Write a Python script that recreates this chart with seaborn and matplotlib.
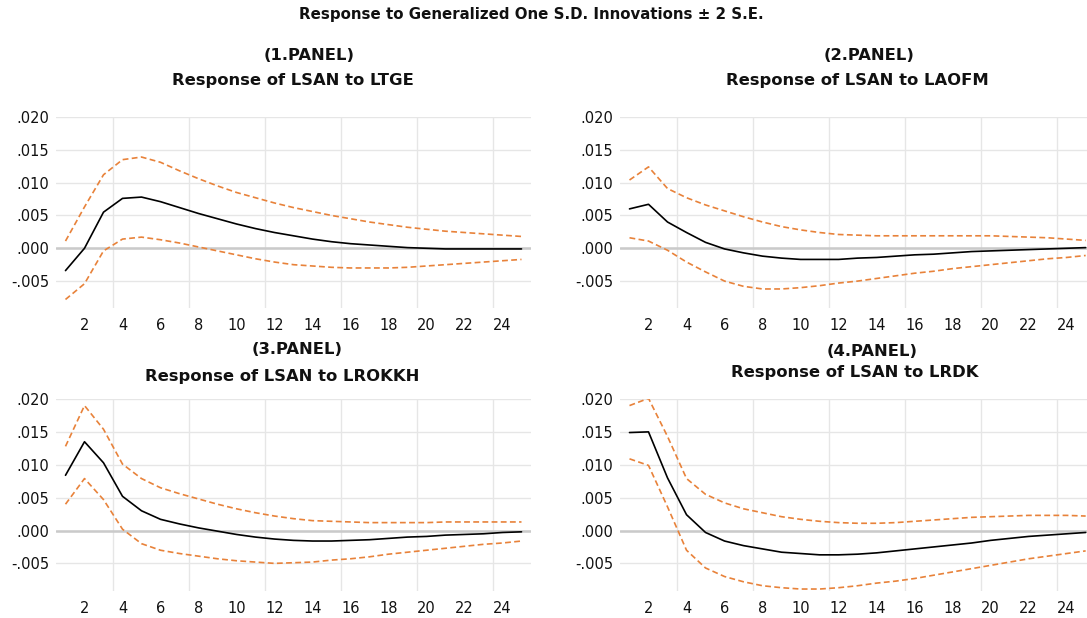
import numpy as np
import pandas as pd
import matplotlib
matplotlib.use("Agg")
import matplotlib.pyplot as plt
import seaborn as sns
from matplotlib.ticker import FuncFormatter

periods = list(range(1, 26))

p1_resp = [-0.0034, 0.0000, 0.0055, 0.0076, 0.0078, 0.0071, 0.0062, 0.0053, 0.0045, 0.0037, 0.0030, 0.0024, 0.0019,
           0.0014, 0.0010, 0.0007, 0.0005, 0.0003, 0.0001, 0.0000, -0.0001, -0.0001, -0.0001, -0.0001, -0.0001]
p1_upper = [0.0011, 0.0063, 0.0112, 0.0135, 0.0139, 0.0131, 0.0118, 0.0106, 0.0095, 0.0085, 0.0077, 0.0069, 0.0062,
            0.0056, 0.0050, 0.0045, 0.0040, 0.0036, 0.0032, 0.0029, 0.0026, 0.0024, 0.0022, 0.0020, 0.0018]
p1_lower = [-0.0078, -0.0054, -0.0004, 0.0014, 0.0017, 0.0013, 0.0008, 0.0002, -0.0004, -0.0010, -0.0016, -0.0021,
            -0.0025, -0.0027, -0.0029, -0.0030, -0.0030, -0.0030, -0.0029, -0.0027, -0.0025, -0.0023, -0.0021,
            -0.0019, -0.0017]

p2_resp = [0.0060, 0.0067, 0.0040, 0.0024, 0.0009, -0.0001, -0.0007, -0.0012, -0.0015, -0.0017, -0.0017, -0.0017,
           -0.0015, -0.0014, -0.0012, -0.0010, -0.0009, -0.0007, -0.0005, -0.0004, -0.0003, -0.0002, -0.0001,
           0.0000, 0.0001]
p2_upper = [0.0104, 0.0124, 0.0091, 0.0077, 0.0066, 0.0057, 0.0048, 0.0040, 0.0033, 0.0028, 0.0024, 0.0021, 0.0020,
            0.0019, 0.0019, 0.0019, 0.0019, 0.0019, 0.0019, 0.0019, 0.0018, 0.0017, 0.0016, 0.0014, 0.0012]
p2_lower = [0.0016, 0.0011, -0.0003, -0.0021, -0.0036, -0.0050, -0.0058, -0.0062, -0.0062, -0.0060, -0.0057, -0.0053,
            -0.0050, -0.0046, -0.0042, -0.0038, -0.0035, -0.0031, -0.0028, -0.0025, -0.0022, -0.0019, -0.0016,
            -0.0014, -0.0011]

p3_resp = [0.0084, 0.0135, 0.0103, 0.0052, 0.0030, 0.0017, 0.0010, 0.0004, -0.0001, -0.0006, -0.0010, -0.0013,
           -0.0015, -0.0016, -0.0016, -0.0015, -0.0014, -0.0012, -0.0010, -0.0009, -0.0007, -0.0006, -0.0005,
           -0.0003, -0.0002]
p3_upper = [0.0128, 0.0190, 0.0154, 0.0101, 0.0079, 0.0065, 0.0056, 0.0048, 0.0040, 0.0033, 0.0027, 0.0022, 0.0018,
            0.0015, 0.0014, 0.0013, 0.0012, 0.0012, 0.0012, 0.0012, 0.0013, 0.0013, 0.0013, 0.0013, 0.0013]
p3_lower = [0.0040, 0.0079, 0.0047, 0.0002, -0.0020, -0.0030, -0.0035, -0.0039, -0.0043, -0.0046, -0.0048, -0.0050,
            -0.0049, -0.0048, -0.0045, -0.0043, -0.0040, -0.0036, -0.0033, -0.0030, -0.0027, -0.0024, -0.0021,
            -0.0019, -0.0016]

p4_resp = [0.0149, 0.0150, 0.0080, 0.0024, -0.0003, -0.0016, -0.0023, -0.0028, -0.0033, -0.0035, -0.0037, -0.0037,
           -0.0036, -0.0034, -0.0031, -0.0028, -0.0025, -0.0022, -0.0019, -0.0015, -0.0012, -0.0009, -0.0007,
           -0.0005, -0.0003]
p4_upper = [0.0190, 0.0201, 0.0143, 0.0079, 0.0055, 0.0042, 0.0033, 0.0027, 0.0021, 0.0017, 0.0014, 0.0012, 0.0011,
            0.0011, 0.0012, 0.0014, 0.0016, 0.0018, 0.0020, 0.0021, 0.0022, 0.0023, 0.0023, 0.0023, 0.0022]
p4_lower = [0.0109, 0.0099, 0.0036, -0.0030, -0.0057, -0.0070, -0.0078, -0.0084, -0.0087, -0.0089, -0.0089, -0.0087,
            -0.0084, -0.0080, -0.0077, -0.0073, -0.0068, -0.0063, -0.0058, -0.0053, -0.0048, -0.0043, -0.0039,
            -0.0035, -0.0031]

panel_labels = ["(1.PANEL)", "(2.PANEL)", "(3.PANEL)", "(4.PANEL)"]
panel_titles = ["Response of LSAN to LTGE", "Response of LSAN to LAOFM",
                "Response of LSAN to LROKKH", "Response of LSAN to LRDK"]
main_title = "Response to Generalized One S.D. Innovations \u00b1 2 S.E."
y_ticks = [-0.005, 0.000, 0.005, 0.010, 0.015, 0.020]
x_ticks = list(range(2, 25, 2))

sns.set_theme(style="white")
plt.rcParams["font.family"] = ["DejaVu Sans"]

W, H = 1087, 618
fig = plt.figure(figsize=(W / 100, H / 100), dpi=100)

RESP_COLOR = "#000000"
BAND_COLOR = "#E8823A"
GRID_COLOR = "#E6E6E6"
ZERO_COLOR = "#CACACA"
TITLE_FONT = "DejaVu Sans"

# axes boxes in pixels: left, top, right, bottom
boxes = [(56, 117, 531, 308), (620, 117, 1087, 308), (56, 399, 531, 591), (620, 399, 1087, 591)]
xlims = [(0.5, 25.5), (0.5, 25.07), (0.5, 25.5), (0.5, 25.07)]
ylims = [(-0.0091, 0.020), (-0.0091, 0.020), (-0.0092, 0.020), (-0.0092, 0.020)]

data = [(p1_resp, p1_upper, p1_lower), (p2_resp, p2_upper, p2_lower),
        (p3_resp, p3_upper, p3_lower), (p4_resp, p4_upper, p4_lower)]

fmt = FuncFormatter(lambda v, p: f"{v:.3f}".replace("0.", ".", 1))

for i, (resp, up, lo) in enumerate(data):
    l, t, r, b = boxes[i]
    ax = fig.add_axes([l / W, 1 - b / H, (r - l) / W, (b - t) / H])
    df = pd.DataFrame({"period": periods, "resp": resp, "upper": up, "lower": lo})
    ax.axhline(0, color=ZERO_COLOR, lw=1.8, zorder=1)
    sns.lineplot(data=df, x="period", y="upper", ax=ax, color=BAND_COLOR, lw=1.2,
                 linestyle=(0, (3.5, 2.0)), zorder=3)
    sns.lineplot(data=df, x="period", y="lower", ax=ax, color=BAND_COLOR, lw=1.2,
                 linestyle=(0, (3.5, 2.0)), zorder=3)
    sns.lineplot(data=df, x="period", y="resp", ax=ax, color=RESP_COLOR, lw=1.2, zorder=4)
    ax.set_xlim(*xlims[i])
    ax.set_ylim(*ylims[i])
    ax.set_xticks(x_ticks)
    ax.set_xticks([3.5, 7.5, 11.5, 15.5, 19.5, 23.5], minor=True)
    ax.set_yticks(y_ticks)
    ax.yaxis.set_major_formatter(fmt)
    ax.grid(False)
    ax.grid(True, which="minor", axis="x", color=GRID_COLOR, lw=1.0, zorder=0)
    ax.grid(True, which="major", axis="y", color=GRID_COLOR, lw=1.0, zorder=0)
    ax.set_axisbelow(True)
    ax.tick_params(axis="both", which="both", length=0, labelsize=10.5, colors="#111111")
    ax.tick_params(axis="y", pad=5)
    ax.tick_params(axis="x", pad=7)
    ax.set_xlabel("")
    ax.set_ylabel("")
    for s in ax.spines.values():
        s.set_visible(False)
    ax.patch.set_alpha(0)

renderer = fig.canvas.get_renderer()

# panel headings share one font size, fitted to the reference text widths
label_pos = [(309, 55), (869, 55), (297, 350), (872, 351)]
label_w = [89, 89, 91, 90]
title_pos = [(293, 81), (857, 81), (282, 377), (855, 373)]
title_w = [242, 264, 273, 247]

def make_text(x, y, s):
    return fig.text(x / W, 1 - y / H, s, ha="center", va="center", fontsize=11,
                    fontweight="bold", family=[TITLE_FONT], color="#111111")

# main title fitted to its own width
mt = make_text(531, 15, main_title)
mw = mt.get_window_extent(renderer=renderer).width
mt.set_fontsize(11 * 462 / mw)

texts = []
sizes = []
for i in range(4):
    for (x, y), s, tw in [(label_pos[i], panel_labels[i], label_w[i]),
                          (title_pos[i], panel_titles[i], title_w[i])]:
        t = make_text(x, y, s)
        w = t.get_window_extent(renderer=renderer).width
        sizes.append(11 * tw / w)
        texts.append(t)
common = float(np.median(sizes))
for t in texts:
    t.set_fontsize(common)

fig.savefig("out.png", dpi=100)
